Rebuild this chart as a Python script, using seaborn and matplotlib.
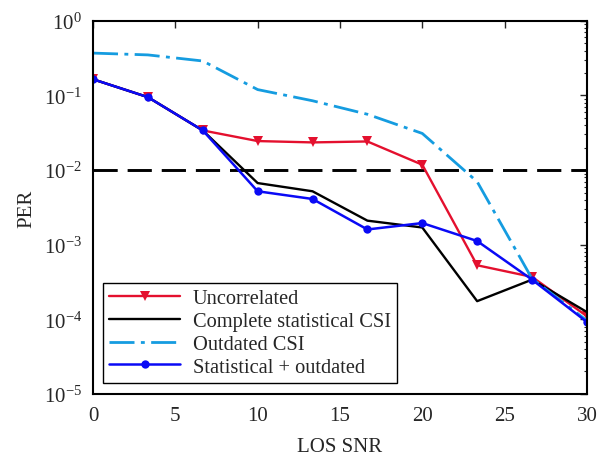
import numpy as np
import pandas as pd
import matplotlib
matplotlib.use("Agg")
import matplotlib.pyplot as plt
import seaborn as sns

snr = [0, 3.333, 6.667, 10, 13.333, 16.667, 20, 23.333, 26.667, 30]
uncorrelated = [0.165, 0.095, 0.034, 0.0245, 0.0235, 0.0242, 0.0118, 5.3e-4, 3.7e-4, 1.1e-4]
complete_stat = [0.165, 0.095, 0.034, 6.7e-3, 5.2e-3, 2.1e-3, 1.7e-3, 1.75e-4, 3.4e-4, 1.25e-4]
outdated = [0.37, 0.35, 0.29, 0.12, 0.085, 0.056, 0.031, 7.0e-3, 3.5e-4, 9.6e-5]
stat_outdated = [0.165, 0.095, 0.034, 5.2e-3, 4.1e-3, 1.6e-3, 1.95e-3, 1.12e-3, 3.4e-4, 9.2e-5]
threshold = 1e-2

names = ["Uncorrelated", "Complete statistical CSI", "Outdated CSI", "Statistical + outdated"]
series = [uncorrelated, complete_stat, outdated, stat_outdated]
ytick_vals = [1e-5, 1e-4, 1e-3, 1e-2, 1e-1, 1]
ytick_labels = [r"$10^{-5}$", r"$10^{-4}$", r"$10^{-3}$", r"$10^{-2}$", r"$10^{-1}$", r"$10^{0}$"]
xtick_vals = [0, 5, 10, 15, 20, 25, 30]

sns.set_theme(style="white")
plt.rcParams['font.family'] = ['Liberation Serif', 'DejaVu Serif']
plt.rcParams['mathtext.fontset'] = 'custom'
plt.rcParams['mathtext.rm'] = 'Liberation Serif'
plt.rcParams['mathtext.it'] = 'Liberation Serif:italic'
plt.rcParams['mathtext.bf'] = 'Liberation Serif:bold'

fig = plt.figure(figsize=(6.12, 4.56), dpi=100)
ax = fig.add_axes([0.152, 0.134, 0.807, 0.818])

styles = {
    "Uncorrelated": dict(color="#e4102e", lw=1.7, marker="v", ms=7, ls="-"),
    "Complete statistical CSI": dict(color="black", lw=1.7, marker=None, ls="-"),
    "Outdated CSI": dict(color="#159ce0", lw=2.0, marker=None, ls=(0, (9, 2.3, 1.4, 2.3))),
    "Statistical + outdated": dict(color="#0a0af5", lw=1.8, marker="o", ms=6, ls="-"),
}

for name, vals in zip(names, series):
    df = pd.DataFrame({"snr": snr, "per": vals})
    st = styles[name]
    kw = dict(color=st["color"], linewidth=st["lw"], linestyle=st["ls"], label=name)
    if st["marker"]:
        kw.update(marker=st["marker"], markersize=st["ms"], markeredgewidth=0,
                  markerfacecolor=st["color"])
    sns.lineplot(data=df, x="snr", y="per", ax=ax, **kw)

ax.axhline(threshold, color="black", lw=2.1, ls=(0, (8.3, 3.4)), zorder=1)

ax.set_yscale("log")
ax.set_xlim(0, 30)
ax.set_ylim(1e-5, 1)
ax.set_xticks(xtick_vals)
ax.set_yticks(ytick_vals)
ax.set_yticklabels(ytick_labels)
ax.set_xlabel("LOS SNR", fontsize=15, labelpad=8)
ax.set_ylabel("PER", fontsize=15, labelpad=5)
ax.tick_params(axis="both", which="both", direction="in", top=True, right=True, labelsize=15)
ax.tick_params(axis="x", which="major", pad=9)
ax.tick_params(axis="y", which="major", pad=8)
ax.tick_params(which="major", length=5, width=1)
ax.tick_params(which="minor", length=2.5, width=0.8)
for s in ax.spines.values():
    s.set_color("black")
    s.set_linewidth(1.5)

leg = ax.legend(loc="lower left", bbox_to_anchor=(0.02, 0.03), fontsize=14.7,
                frameon=True, fancybox=False, edgecolor="black", framealpha=1,
                handlelength=3.5, borderpad=0.3, labelspacing=0.17, handletextpad=0.6,
                borderaxespad=0.0)
leg.get_frame().set_linewidth(1.0)

fig.savefig("out.png", dpi=100)
